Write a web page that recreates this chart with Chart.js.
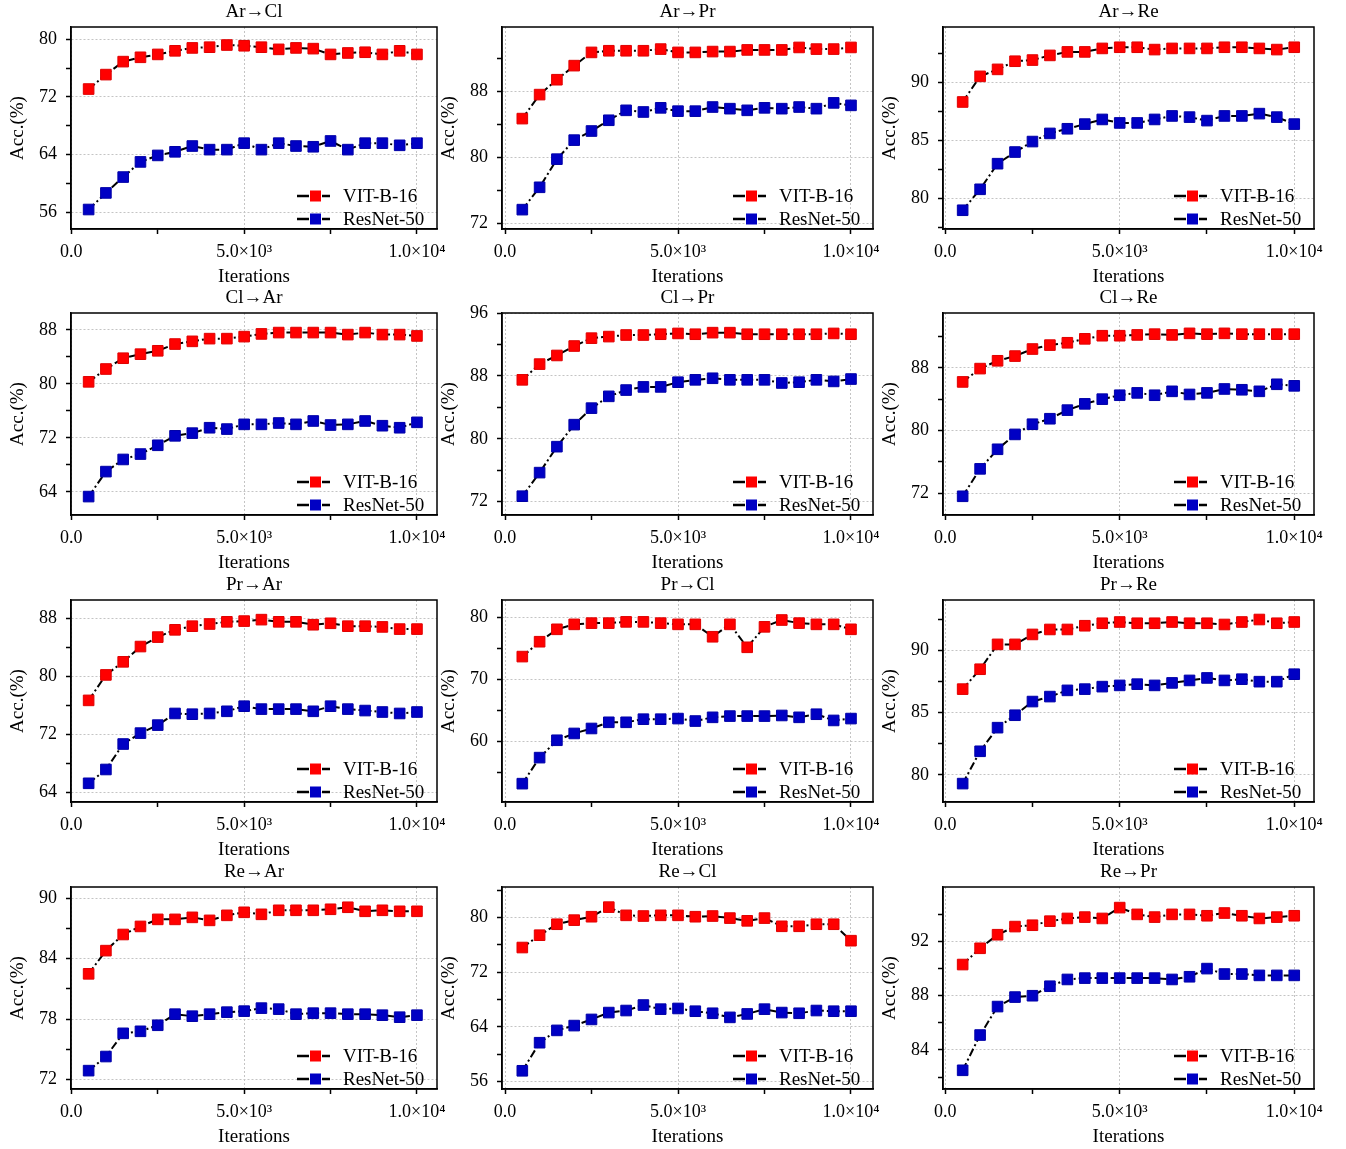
<!DOCTYPE html>
<html lang="en">
<head>
  <meta charset="UTF-8">
  <title>Accuracy vs iterations</title>
  <script src="https://cdn.jsdelivr.net/npm/chart.js"></script>
  <style>
    body {
      margin: 0;
      background: #fff;
    }
    #grid {
      position: relative;
      width: 1346px;
      height: 1149px;
      overflow: hidden;
    }
    #grid canvas {
      position: absolute;
    }
  </style>
</head>
<body>

<div id="grid"></div>

<script>
// ---- data ----
const iterations = [500, 1000, 1500, 2000, 2500, 3000, 3500, 4000, 4500, 5000,
                    5500, 6000, 6500, 7000, 7500, 8000, 8500, 9000, 9500, 10000];
const xTickValues = [0, 2500, 5000, 7500, 10000];
const xTickLabels = ['0.0', '', '5.0×10³', '', '1.0×10⁴'];
const seriesNames = ['VIT-B-16', 'ResNet-50'];
const taskNames = ['Ar→Cl', 'Ar→Pr', 'Ar→Re', 'Cl→Ar', 'Cl→Pr', 'Cl→Re',
                   'Pr→Ar', 'Pr→Cl', 'Pr→Re', 'Re→Ar', 'Re→Cl', 'Re→Pr'];

const vitArCl = [73.1, 75.1, 76.9, 77.5, 77.9, 78.4, 78.8, 78.9, 79.2, 79.1, 78.9, 78.6, 78.8, 78.7, 77.9, 78.1, 78.2, 77.9, 78.4, 77.9];
const resArCl = [56.4, 58.7, 60.9, 63.0, 63.9, 64.4, 65.2, 64.7, 64.7, 65.6, 64.7, 65.6, 65.2, 65.1, 65.9, 64.7, 65.6, 65.6, 65.3, 65.6];
const ticksArCl = [56, 64, 72, 80];
const minorArCl = [60, 68, 76];

const vitArPr = [84.7, 87.6, 89.4, 91.1, 92.7, 92.9, 92.9, 92.9, 93.1, 92.7, 92.7, 92.8, 92.8, 93.0, 93.0, 93.0, 93.3, 93.1, 93.1, 93.3];
const resArPr = [73.7, 76.4, 79.8, 82.1, 83.2, 84.5, 85.7, 85.5, 86.0, 85.6, 85.6, 86.1, 85.9, 85.7, 86.0, 85.9, 86.1, 85.9, 86.6, 86.3];
const ticksArPr = [72, 80, 88];
const minorArPr = [76, 84, 92];

const vitArRe = [88.3, 90.5, 91.1, 91.8, 91.9, 92.3, 92.6, 92.6, 92.9, 93.0, 93.0, 92.8, 92.9, 92.9, 92.9, 93.0, 93.0, 92.9, 92.8, 93.0];
const resArRe = [79.0, 80.8, 83.0, 84.0, 84.9, 85.6, 86.0, 86.4, 86.8, 86.5, 86.5, 86.8, 87.1, 87.0, 86.7, 87.1, 87.1, 87.3, 87.0, 86.4];
const ticksArRe = [80, 85, 90];
const minorArRe = [77.5, 82.5, 87.5, 92.5];

const vitClAr = [80.3, 82.2, 83.8, 84.4, 84.9, 85.9, 86.3, 86.7, 86.7, 87.0, 87.4, 87.6, 87.6, 87.6, 87.6, 87.3, 87.6, 87.3, 87.3, 87.1];
const resClAr = [63.3, 67.0, 68.8, 69.6, 70.9, 72.3, 72.7, 73.5, 73.3, 74.0, 74.0, 74.2, 74.0, 74.5, 73.9, 74.0, 74.5, 73.8, 73.5, 74.3];
const ticksClAr = [64, 72, 80, 88];
const minorClAr = [68, 76, 84];

const vitClPr = [87.5, 89.5, 90.6, 91.8, 92.8, 93.0, 93.2, 93.2, 93.3, 93.4, 93.3, 93.5, 93.5, 93.3, 93.3, 93.3, 93.3, 93.3, 93.4, 93.3];
const resClPr = [72.7, 75.7, 79.0, 81.8, 83.9, 85.4, 86.2, 86.6, 86.6, 87.2, 87.5, 87.7, 87.5, 87.5, 87.5, 87.1, 87.2, 87.5, 87.3, 87.6];
const ticksClPr = [72, 80, 88, 96];
const minorClPr = [76, 84, 92];

const vitClRe = [86.2, 87.9, 88.9, 89.5, 90.4, 90.9, 91.2, 91.7, 92.1, 92.1, 92.2, 92.3, 92.2, 92.4, 92.3, 92.4, 92.3, 92.3, 92.3, 92.3];
const resClRe = [71.6, 75.1, 77.6, 79.5, 80.8, 81.5, 82.6, 83.4, 84.0, 84.5, 84.8, 84.5, 85.0, 84.6, 84.8, 85.3, 85.2, 85.0, 85.9, 85.7];
const ticksClRe = [72, 80, 88];
const minorClRe = [76, 84, 92];

const vitPrAr = [76.7, 80.2, 82.0, 84.1, 85.4, 86.4, 86.9, 87.2, 87.5, 87.6, 87.8, 87.5, 87.5, 87.1, 87.3, 86.9, 86.9, 86.8, 86.5, 86.5];
const resPrAr = [65.3, 67.2, 70.7, 72.2, 73.3, 74.9, 74.8, 74.9, 75.2, 75.9, 75.5, 75.5, 75.5, 75.2, 75.9, 75.5, 75.3, 75.1, 74.9, 75.1];
const ticksPrAr = [64, 72, 80, 88];
const minorPrAr = [68, 76, 84];

const vitPrCl = [73.7, 76.1, 78.1, 78.9, 79.1, 79.1, 79.3, 79.3, 79.1, 78.9, 78.9, 76.9, 78.9, 75.2, 78.5, 79.6, 79.1, 78.9, 78.9, 78.1];
const resPrCl = [53.2, 57.4, 60.2, 61.3, 62.1, 63.1, 63.1, 63.6, 63.6, 63.7, 63.3, 63.9, 64.1, 64.1, 64.1, 64.2, 63.9, 64.4, 63.4, 63.7];
const ticksPrCl = [60, 70, 80];
const minorPrCl = [55, 65, 75];

const vitPrRe = [86.9, 88.5, 90.5, 90.5, 91.3, 91.7, 91.7, 92.0, 92.2, 92.3, 92.2, 92.2, 92.3, 92.2, 92.2, 92.1, 92.3, 92.5, 92.2, 92.3];
const resPrRe = [79.3, 81.9, 83.8, 84.8, 85.9, 86.3, 86.8, 86.9, 87.1, 87.2, 87.3, 87.2, 87.4, 87.6, 87.8, 87.6, 87.7, 87.5, 87.5, 88.1];
const ticksPrRe = [80, 85, 90];
const minorPrRe = [82.5, 87.5, 92.5];

const vitReAr = [82.5, 84.8, 86.4, 87.2, 87.9, 87.9, 88.1, 87.8, 88.3, 88.6, 88.4, 88.8, 88.8, 88.8, 88.9, 89.1, 88.7, 88.8, 88.7, 88.7];
const resReAr = [72.9, 74.3, 76.6, 76.8, 77.4, 78.5, 78.3, 78.5, 78.7, 78.8, 79.1, 79.0, 78.5, 78.6, 78.6, 78.5, 78.5, 78.4, 78.2, 78.4];
const ticksReAr = [72, 78, 84, 90];
const minorReAr = [75, 81, 87];

const vitReCl = [75.6, 77.4, 79.0, 79.6, 80.1, 81.5, 80.3, 80.2, 80.3, 80.3, 80.1, 80.2, 79.9, 79.5, 79.9, 78.7, 78.7, 79.0, 79.0, 76.6];
const resReCl = [57.6, 61.7, 63.5, 64.2, 65.1, 66.1, 66.4, 67.2, 66.6, 66.7, 66.3, 66.0, 65.4, 65.9, 66.6, 66.1, 66.0, 66.4, 66.3, 66.3];
const ticksReCl = [56, 64, 72, 80];
const minorReCl = [60, 68, 76, 84];

const vitRePr = [90.3, 91.5, 92.5, 93.1, 93.2, 93.5, 93.7, 93.8, 93.7, 94.5, 94.0, 93.8, 94.0, 94.0, 93.9, 94.1, 93.9, 93.7, 93.8, 93.9];
const resRePr = [82.5, 85.1, 87.2, 87.9, 88.0, 88.7, 89.2, 89.3, 89.3, 89.3, 89.3, 89.3, 89.2, 89.4, 90.0, 89.6, 89.6, 89.5, 89.5, 89.5];
const ticksRePr = [84, 88, 92];
const minorRePr = [82, 86, 90, 94];

// ---- layout ----
const FONT = "'Liberation Serif', 'Times New Roman', serif";
const colLeft = [71, 502, 943];
const colWidth = [366, 371, 371];
const colXRange = [[-10, 10580], [-87, 10636], [-63, 10566]];
const rowTop = [27, 313, 600, 887];
const plotH = 202;
const AXIS_W = 71, TITLE_H = 27, XAXIS_H = 60, PAD_R = 24;

const panels = [
  {vit: vitArCl, res: resArCl, major: ticksArCl, minor: minorArCl, yMin: 53.7, yMax: 81.7},
  {vit: vitArPr, res: resArPr, major: ticksArPr, minor: minorArPr, yMin: 71.36, yMax: 95.77},
  {vit: vitArRe, res: resArRe, major: ticksArRe, minor: minorArRe, yMin: 77.39, yMax: 94.74},
  {vit: vitClAr, res: resClAr, major: ticksClAr, minor: minorClAr, yMin: 60.57, yMax: 90.5},
  {vit: vitClPr, res: resClPr, major: ticksClPr, minor: minorClPr, yMin: 70.31, yMax: 96},
  {vit: vitClRe, res: resClRe, major: ticksClRe, minor: minorClRe, yMin: 69.21, yMax: 95.0},
  {vit: vitPrAr, res: resPrAr, major: ticksPrAr, minor: minorPrAr, yMin: 62.73, yMax: 90.5},
  {vit: vitPrCl, res: resPrCl, major: ticksPrCl, minor: minorPrCl, yMin: 50.24, yMax: 82.83},
  {vit: vitPrRe, res: resPrRe, major: ticksPrRe, minor: minorPrRe, yMin: 77.82, yMax: 94.07},
  {vit: vitReAr, res: resReAr, major: ticksReAr, minor: minorReAr, yMin: 71.08, yMax: 91.11},
  {vit: vitReCl, res: resReCl, major: ticksReCl, minor: minorReCl, yMin: 54.94, yMax: 84.44},
  {vit: vitRePr, res: resRePr, major: ticksRePr, minor: minorRePr, yMin: 81.12, yMax: 96.02},
];

// black box around the plot area
const frameBox = {
  id: 'frameBox',
  beforeDatasetsDraw(chart) {
    const {ctx, chartArea: a} = chart;
    ctx.save();
    ctx.strokeStyle = '#000';
    ctx.lineWidth = 1.5;
    ctx.setLineDash([]);
    ctx.strokeRect(a.left, a.top, a.width, a.height);
    ctx.restore();
  }
};

// legend drawn inside the plot, bottom right
const insideLegend = {
  id: 'insideLegend',
  afterDatasetsDraw(chart) {
    const {ctx, chartArea: a} = chart;
    ctx.save();
    chart.data.datasets.forEach((ds, i) => {
      const y = a.bottom - 33 + i * 23;
      const x0 = a.right - 140;
      ctx.strokeStyle = '#000';
      ctx.lineWidth = 2.5;
      ctx.setLineDash([]);
      ctx.beginPath();
      ctx.moveTo(x0, y); ctx.lineTo(x0 + 12, y);
      ctx.moveTo(x0 + 25, y); ctx.lineTo(x0 + 33, y);
      ctx.stroke();
      ctx.fillStyle = ds.pointBackgroundColor;
      ctx.fillRect(x0 + 13, y - 5.5, 11, 11);
      ctx.fillStyle = '#000';
      ctx.font = '19px ' + FONT;
      ctx.textBaseline = 'middle';
      ctx.textAlign = 'left';
      ctx.fillText(ds.label, a.right - 94, y + 1);
    });
    ctx.restore();
  }
};

function gridColor(list) {
  return ctx => (ctx.tick && list.includes(ctx.tick.value)) ? '#c4c4c4' : 'rgba(0,0,0,0)';
}

function makeChart(idx) {
  const p = panels[idx];
  const col = idx % 3, row = Math.floor(idx / 3);
  const canvas = document.createElement('canvas');
  const w = AXIS_W + colWidth[col] + PAD_R;
  const h = TITLE_H + plotH + XAXIS_H;
  canvas.width = w;
  canvas.height = h;
  canvas.style.left = (colLeft[col] - AXIS_W) + 'px';
  canvas.style.top = (rowTop[row] - TITLE_H) + 'px';
  document.getElementById('grid').appendChild(canvas);

  const yTicks = p.major.concat(p.minor).sort((a, b) => a - b);

  new Chart(canvas.getContext('2d'), {
    type: 'line',
    data: {
      datasets: [
        {
          label: seriesNames[0],
          data: iterations.map((x, i) => ({x: x, y: p.vit[i]})),
          borderColor: '#000',
          borderWidth: 2,
          borderDash: [8, 3, 2, 3],
          pointStyle: 'rect',
          pointRadius: 7.5,
          pointBackgroundColor: '#ff0000',
          pointBorderColor: '#e00000',
          pointBorderWidth: 1,
          tension: 0
        },
        {
          label: seriesNames[1],
          data: iterations.map((x, i) => ({x: x, y: p.res[i]})),
          borderColor: '#000',
          borderWidth: 2,
          borderDash: [8, 3, 2, 3],
          pointStyle: 'rect',
          pointRadius: 7.5,
          pointBackgroundColor: '#0000c4',
          pointBorderColor: '#0000a8',
          pointBorderWidth: 1,
          tension: 0
        }
      ]
    },
    options: {
      responsive: false,
      animation: false,
      devicePixelRatio: 1,
      events: [],
      layout: {padding: {left: 0, top: 0, right: PAD_R, bottom: 0}},
      scales: {
        x: {
          type: 'linear',
          bounds: 'data',
          min: colXRange[col][0],
          max: colXRange[col][1],
          afterBuildTicks: s => { s.ticks = xTickValues.map(v => ({value: v})); },
          afterFit: s => { s.height = XAXIS_H; },
          ticks: {
            autoSkip: false,
            maxRotation: 0,
            padding: 7,
            color: '#000',
            font: {family: FONT, size: 18},
            callback: v => xTickLabels[xTickValues.indexOf(v)]
          },
          grid: {
            color: gridColor([0, 5000, 10000]),
            lineWidth: 1,
            tickColor: '#000',
            tickLength: 5,
            tickWidth: 1.5
          },
          border: {display: true, color: '#000', width: 1.5, dash: [2, 2]},
          title: {
            display: true,
            text: 'Iterations',
            color: '#000',
            font: {family: FONT, size: 19},
            padding: {top: 0, bottom: 1}
          }
        },
        y: {
          bounds: 'data',
          min: p.yMin,
          max: p.yMax,
          afterBuildTicks: s => { s.ticks = yTicks.map(v => ({value: v})); },
          afterFit: s => { s.width = AXIS_W; },
          ticks: {
            autoSkip: false,
            padding: 9,
            color: '#000',
            font: {family: FONT, size: 18},
            callback: v => p.major.includes(v) ? String(v) : ''
          },
          grid: {
            color: gridColor(p.major),
            lineWidth: 1,
            tickColor: '#000',
            tickLength: 5,
            tickWidth: 1.5
          },
          border: {display: true, color: '#000', width: 1.5, dash: [2, 2]},
          title: {
            display: true,
            text: 'Acc.(%)',
            color: '#000',
            font: {family: FONT, size: 19},
            padding: {top: 7, bottom: 0}
          }
        }
      },
      plugins: {
        legend: {display: false},
        tooltip: {enabled: false},
        title: {
          display: true,
          fullSize: false,
          text: taskNames[idx],
          color: '#000',
          font: {family: FONT, size: 19, weight: 'normal', lineHeight: '20px'},
          padding: {top: 2, bottom: 5}
        }
      }
    },
    plugins: [frameBox, insideLegend]
  });
}

for (let i = 0; i < panels.length; i++) makeChart(i);
</script>

</body>
</html>
